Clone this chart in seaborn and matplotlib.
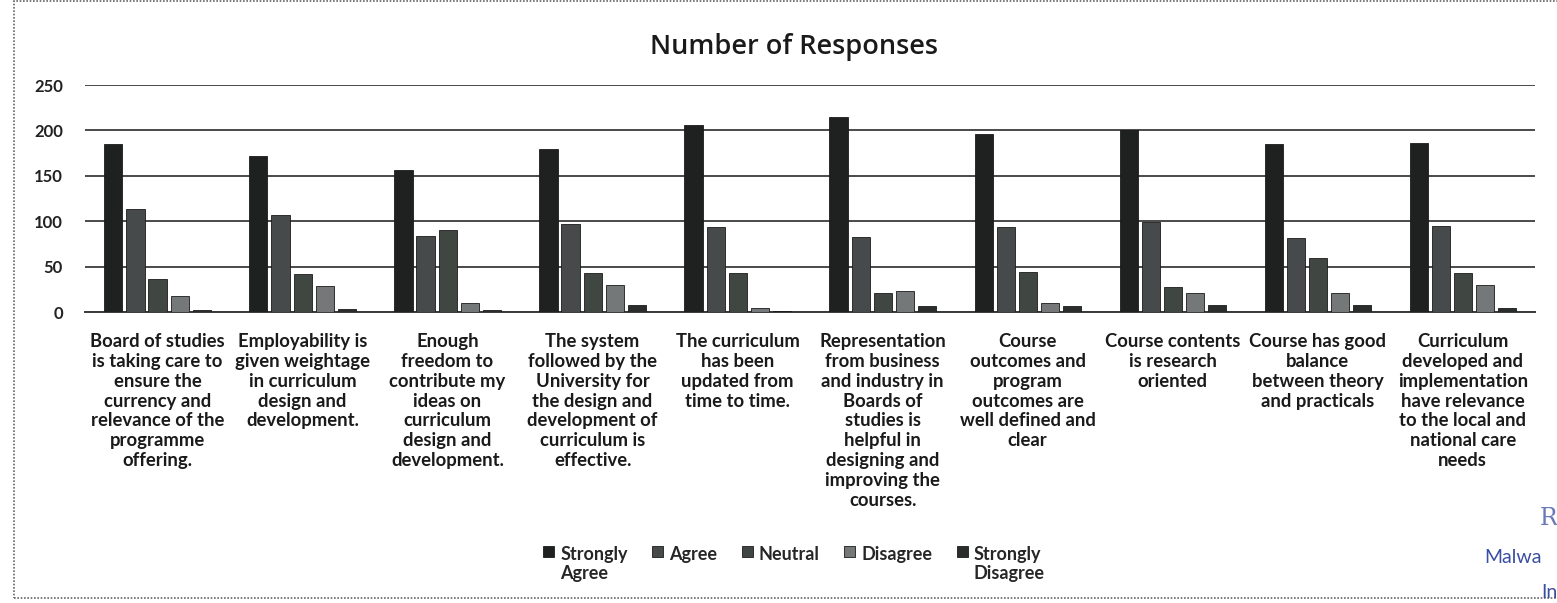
import matplotlib
matplotlib.use("Agg")
import matplotlib.pyplot as plt
import seaborn as sns
import pandas as pd
from matplotlib.patches import Rectangle

categories = [
    "Board of studies\nis taking care to\nensure the\ncurrency and\nrelevance of the\nprogramme\noffering.",
    "Employability is\ngiven weightage\nin curriculum\ndesign and\ndevelopment.",
    "Enough\nfreedom to\ncontribute my\nideas on\ncurriculum\ndesign and\ndevelopment.",
    "The system\nfollowed by the\nUniversity for\nthe design and\ndevelopment of\ncurriculum is\neffective.",
    "The curriculum\nhas been\nupdated from\ntime to time.",
    "Representation\nfrom business\nand industry in\nBoards of\nstudies is\nhelpful in\ndesigning and\nimproving the\ncourses.",
    "Course\noutcomes and\nprogram\noutcomes are\nwell defined and\nclear",
    "Course contents\nis research\noriented",
    "Course has good\nbalance\nbetween theory\nand practicals",
    "Curriculum\ndeveloped and\nimplementation\nhave relevance\nto the local and\nnational care\nneeds",
]
series_names = ["Strongly\nAgree", "Agree", "Neutral", "Disagree", "Strongly\nDisagree"]
strongly_agree = [185, 172, 157, 180, 206, 215, 196, 200, 185, 186]
agree = [114, 107, 84, 97, 94, 83, 94, 99, 82, 95]
neutral = [37, 42, 91, 43, 43, 21, 44, 28, 60, 43]
disagree = [18, 29, 10, 30, 5, 24, 10, 21, 21, 30]
strongly_disagree = [3, 4, 3, 8, 2, 7, 7, 8, 8, 5]
yticks = [0, 50, 100, 150, 200, 250]

values = [strongly_agree, agree, neutral, disagree, strongly_disagree]
rows = []
for name, vals in zip(series_names, values):
    for cat, v in zip(categories, vals):
        rows.append({"Category": cat, "Response": name, "Count": v})
df = pd.DataFrame(rows)

colors = ["#1d211f", "#464a4b", "#3f4842", "#73787a", "#2b2d2c"]

sns.set_theme(style="white")
plt.rcParams["font.family"] = ["Lato", "DejaVu Sans"]

fig = plt.figure(figsize=(15.57, 6.03), dpi=100)
ax = fig.add_axes([0.0546, 0.482, 0.9314, 0.377])

sns.barplot(data=df, x="Category", y="Count", hue="Response",
            palette=colors, width=0.76, gap=0.18, ax=ax,
            edgecolor="#1a1a1a", linewidth=0.6, legend=True)
for p in ax.patches:
    p.set_zorder(3)

ax.set_ylim(0, 250)
ax.set_yticks(yticks)
ax.set_yticklabels([str(t) for t in yticks], fontsize=12, color="#222222",
                   fontweight="bold")
ax.yaxis.grid(True, color="#4a4a4a", linewidth=1.4)
ax.set_axisbelow(True)
ax.set_xlim(-0.5, len(categories) - 0.5)
for s in ["top", "right", "left"]:
    ax.spines[s].set_visible(False)
ax.spines["bottom"].set_color("#3a3a3a")
ax.spines["bottom"].set_linewidth(1.4)
ax.spines["bottom"].set_zorder(0.8)
ax.tick_params(axis="y", length=0, pad=16)
ax.tick_params(axis="x", length=0, pad=15)
ax.set_xticks(range(len(categories)))
ax.set_xticklabels(categories, fontsize=13.3, fontweight="bold",
                   color="#1a1a1a", linespacing=1.2, va="top")
ax.set_xlabel("")
ax.set_ylabel("")

handles, labels = ax.get_legend_handles_labels()
ax.get_legend().remove()
leg = fig.legend(handles, labels, loc="upper center", bbox_to_anchor=(0.51, 0.122),
                 ncol=5, frameon=False, handlelength=0.6,
                 handleheight=0.6, handletextpad=0.35, columnspacing=1.35,
                 prop={"weight": "bold", "size": 13}, labelspacing=0.2)
leg._legend_handle_box.align = "top"
for col in leg._legend_handle_box.get_children():
    col.align = "left"
    for item in col.get_children():
        item.align = "top"
for t in leg.get_texts():
    t.set_linespacing(1.2)

fig.text(0.51, 0.922, "Number of Responses", ha="center", va="center",
         fontsize=19.5, color="#1a1a1a", family="Open Sans", fontweight="semibold")

fig.patches.append(Rectangle((0.009, 0.008), 1.2, 0.99, transform=fig.transFigure,
                             fill=False, edgecolor="#666666", linewidth=1.2,
                             linestyle=(0, (1, 1))))

fig.text(0.989, 0.14, "R", color="#6a79b8", fontsize=17, ha="left", va="center",
         family="DejaVu Serif")
fig.text(0.953, 0.075, "Malwa", color="#3a4fa0", fontsize=14, ha="left", va="center")
fig.text(0.99, 0.018, "In", color="#3a4fa0", fontsize=14, ha="left", va="center")

fig.savefig("out.png", dpi=100)
